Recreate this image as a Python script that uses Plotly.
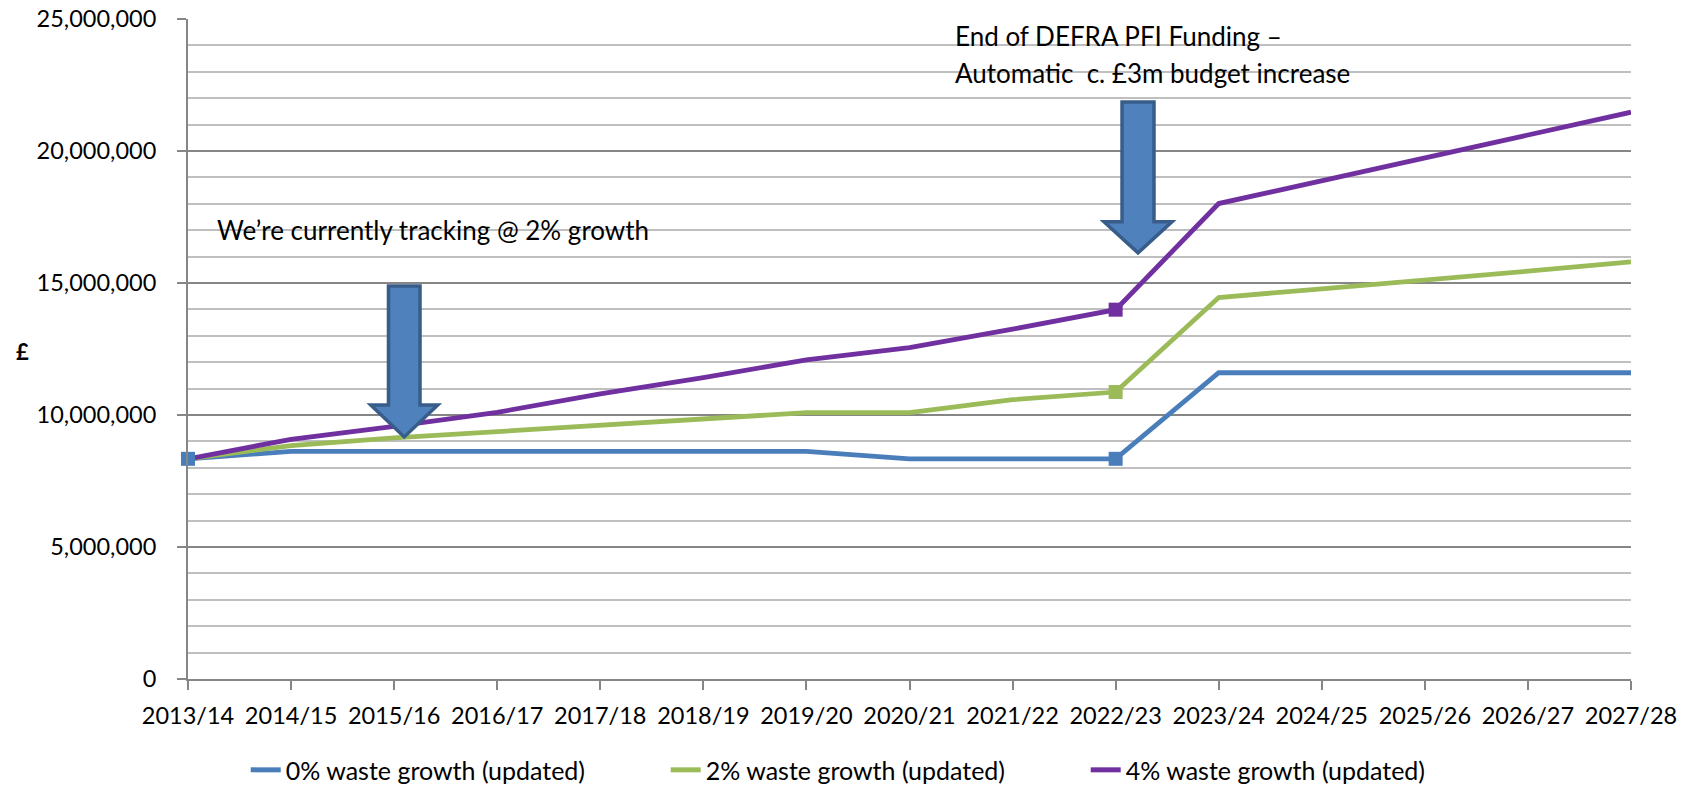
import plotly.graph_objects as go

categories = ['2013/14', '2014/15', '2015/16', '2016/17', '2017/18', '2018/19', '2019/20',
              '2020/21', '2021/22', '2022/23', '2023/24', '2024/25', '2025/26', '2026/27', '2027/28']

# values in £ millions
growth_0 = [8.34, 8.62, 8.62, 8.62, 8.62, 8.62, 8.62, 8.34, 8.34, 8.34, 11.60, 11.60, 11.60, 11.60, 11.60]
growth_2 = [8.34, 8.84, 9.13, 9.37, 9.58, 9.85, 10.09, 10.09, 10.58, 10.87, 14.45, 14.78, 15.10, 15.45, 15.80]
growth_4 = [8.34, 9.08, 9.57, 10.10, 10.80, 11.42, 12.09, 12.55, 13.25, 13.99, 18.01, 18.87, 19.73, 20.60, 21.47]

series_names = ['0% waste growth (updated)', '2% waste growth (updated)', '4% waste growth (updated)']
series_values = [growth_0, growth_2, growth_4]
series_colors = ['#4A7EBB', '#9BBB59', '#7030A0']
# indices of points that carry a square marker
marker_points = [[0, 9], [9], [9]]

y_ticks = [0, 5_000_000, 10_000_000, 15_000_000, 20_000_000, 25_000_000]

FONT = 'Lato'
FS_TICK = 23.5
FS_TEXT = 26
FS_LEG = 25
x_idx = list(range(len(categories)))

fig = go.Figure()
for name, vals, col in zip(series_names, series_values, series_colors):
    fig.add_trace(go.Scatter(x=x_idx, y=[v * 1e6 for v in vals], mode='lines', name=name,
                             line=dict(color=col, width=4.8), cliponaxis=False))
for vals, col, pts in zip(series_values, series_colors, marker_points):
    fig.add_trace(go.Scatter(x=[x_idx[i] for i in pts], y=[vals[i] * 1e6 for i in pts],
                             mode='markers', showlegend=False, cliponaxis=False,
                             marker=dict(symbol='square', size=14, color=col)))


def down_arrow(xc, y_top, y_neck, y_tip, shaft_hw, head_hw):
    pts = [(xc - shaft_hw, y_top), (xc + shaft_hw, y_top), (xc + shaft_hw, y_neck),
           (xc + head_hw, y_neck), (xc, y_tip), (xc - head_hw, y_neck), (xc - shaft_hw, y_neck)]
    return 'M ' + ' L '.join(f'{x},{y}' for x, y in pts) + ' Z'


arrow_style = dict(type='path', xref='x', yref='y', fillcolor='#4F81BD',
                   line=dict(color='#385D8A', width=3.5), layer='above')
fig.add_shape(path=down_arrow(2.098, 14.89e6, 10.38e6, 9.17e6, 0.153, 0.325), **arrow_style)
fig.add_shape(path=down_arrow(9.217, 21.86e6, 17.32e6, 16.14e6, 0.155, 0.33), **arrow_style)

fig.add_annotation(x=0.262, y=17.0e6, xref='x', yref='y', text='We’re currently tracking @ 2% growth',
                   showarrow=False, xanchor='left', yanchor='middle',
                   font=dict(family=FONT, size=FS_TEXT, color='black'))
fig.add_annotation(x=7.42, y=24.36e6, xref='x', yref='y', text='End of DEFRA PFI Funding –',
                   showarrow=False, xanchor='left', yanchor='middle',
                   font=dict(family=FONT, size=FS_TEXT, color='black'))
fig.add_annotation(x=7.42, y=22.97e6, xref='x', yref='y', text='Automatic\u00a0 c. £3m budget increase',
                   showarrow=False, xanchor='left', yanchor='middle',
                   font=dict(family=FONT, size=FS_TEXT, color='black'))
fig.add_annotation(x=-0.115, y=0.4955, xref='paper', yref='paper', text='<b>£</b>',
                   showarrow=False, xanchor='center', yanchor='middle',
                   font=dict(family=FONT, size=22, color='black'))

fig.update_layout(
    width=1690, height=785,
    margin=dict(l=188, r=59, t=19, b=106, autoexpand=False),
    paper_bgcolor='white', plot_bgcolor='white',
    font=dict(family=FONT, size=FS_TICK, color='black'),
    showlegend=True,
    legend=dict(orientation='h', x=0.04, xanchor='left', y=-0.138, yanchor='middle',
                font=dict(family=FONT, size=FS_LEG, color='black'), entrywidth=375,
                itemsizing='constant', bgcolor='rgba(0,0,0,0)'),
    xaxis=dict(range=[0, 14], tickmode='array', tickvals=x_idx, ticktext=categories, tickangle=0,
               showgrid=False, zeroline=False, showline=True, linecolor='#868686', linewidth=2,
               ticks='outside', ticklen=9, tickwidth=1.5, tickcolor='#868686', automargin=False,
               tickfont=dict(family=FONT, size=FS_TICK, color='black'), ticklabelstandoff=6),
    yaxis=dict(range=[0, 25_000_000], tickmode='array', tickvals=y_ticks,
               tickformat=',d', showgrid=True, gridcolor='#868686', gridwidth=1.5,
               zeroline=False, showline=True, linecolor='#868686', linewidth=2,
               ticks='outside', ticklen=9, tickwidth=1.5, tickcolor='#868686', automargin=False,
               tickfont=dict(family=FONT, size=FS_TICK, color='black'), ticklabelstandoff=16,
               minor=dict(dtick=1_000_000, showgrid=True, gridcolor='#BFBFBF', gridwidth=1.5, ticks='')),
)

fig.write_html('out.html', config={'displayModeBar': False},
               post_script="document.body.style.margin='0';document.body.style.overflow='hidden';")
